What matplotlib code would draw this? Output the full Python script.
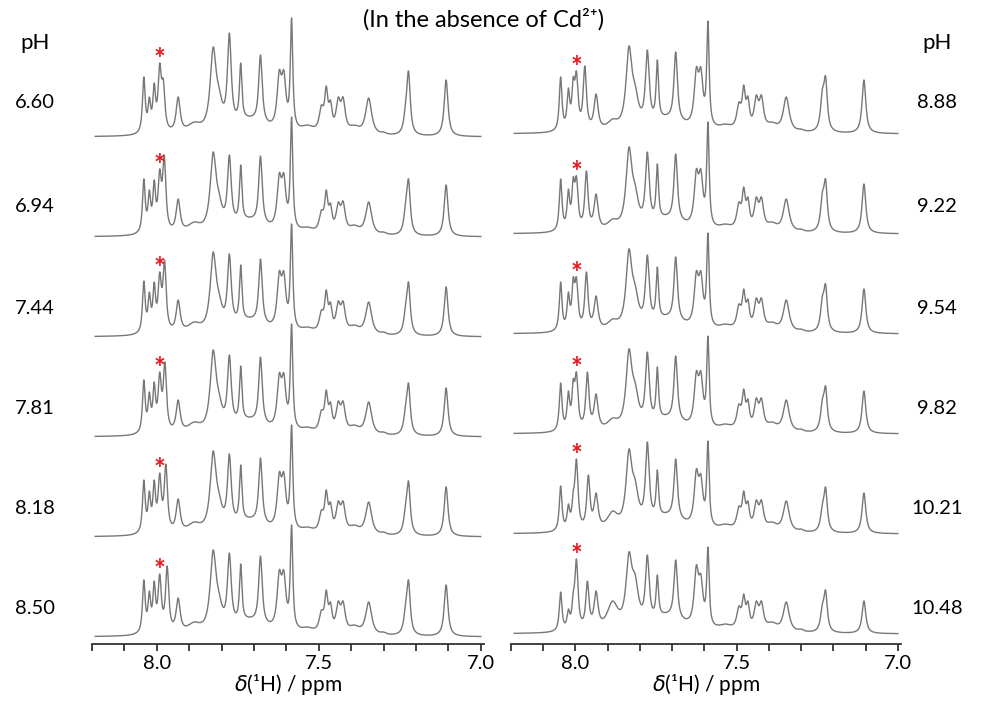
import numpy as np
import matplotlib
matplotlib.use('Agg')
import matplotlib.pyplot as plt
from matplotlib.ticker import MultipleLocator, FuncFormatter

plt.rcParams['font.family'] = ['Lato', 'DejaVu Sans']
plt.rcParams['mathtext.fontset'] = 'dejavusans'

# pH of each trace, top to bottom
ph_left = ['6.60', '6.94', '7.44', '7.81', '8.18', '8.50']
ph_right = ['8.88', '9.22', '9.54', '9.82', '10.21', '10.48']

# peak centres (ppm); index 5 is the peak that drifts with pH
centres_left = [8.072, 8.040, 8.023, 8.008, 7.991, 7.975, 7.934, 7.885, 7.826, 7.808,
                7.776, 7.741, 7.715, 7.680, 7.622, 7.608, 7.584, 7.535, 7.492, 7.477,
                7.464, 7.440, 7.425, 7.390, 7.346, 7.300, 7.232, 7.223, 7.107]
centres_right = [8.072, 8.046, 8.022, 8.007, 7.997, 7.966, 7.936, 7.885, 7.834, 7.815,
                 7.777, 7.746, 7.715, 7.689, 7.625, 7.611, 7.589, 7.535, 7.493, 7.478,
                 7.465, 7.439, 7.423, 7.390, 7.346, 7.300, 7.234, 7.224, 7.105]
moving_left = [7.980, 7.977, 7.976, 7.975, 7.972, 7.968]
moving_right = [7.971, 7.966, 7.966, 7.963, 7.960, 7.963]

# line widths (FWHM, ppm)
widths_left = [0.02, 0.010, 0.010, 0.010, 0.012, 0.012, 0.015, 0.05, 0.022, 0.025,
               0.014, 0.009, 0.12, 0.013, 0.016, 0.016, 0.009, 0.05, 0.016, 0.012,
               0.012, 0.016, 0.016, 0.04, 0.022, 0.02, 0.014, 0.013, 0.014]
widths_right = [0.02, 0.010, 0.010, 0.010, 0.012, 0.012, 0.015, 0.04, 0.022, 0.025,
                0.014, 0.009, 0.12, 0.013, 0.016, 0.016, 0.009, 0.05, 0.016, 0.012,
                0.012, 0.016, 0.016, 0.04, 0.022, 0.02, 0.014, 0.013, 0.014]

# trace height at each centre (pixels above the trace baseline)
heights_left = [
    [3, 60, 40, 54, 74, 58, 40, 15, 90, 50, 104, 74, 21, 82, 67, 67, 119, 12, 32, 51, 37, 40, 40, 12, 39, 5, 35, 66, 57],
    [3, 58, 47, 57, 68, 82, 38, 15, 85, 45, 82, 72, 20, 81, 64, 64, 120, 10, 27, 47, 34, 35, 36, 12, 35, 5, 35, 58, 52],
    [3, 56, 45, 55, 65, 77, 37, 15, 85, 45, 83, 72, 20, 78, 66, 66, 113, 10, 27, 47, 35, 36, 36, 12, 35, 5, 33, 55, 50],
    [3, 57, 45, 55, 65, 75, 37, 15, 87, 45, 82, 71, 20, 80, 64, 64, 113, 10, 27, 47, 35, 36, 36, 12, 35, 5, 33, 54, 49],
    [3, 57, 46, 57, 64, 73, 38, 15, 86, 45, 83, 72, 20, 79, 65, 65, 112, 10, 27, 47, 35, 36, 36, 12, 35, 5, 34, 56, 50],
    [3, 57, 46, 56, 63, 71, 39, 15, 87, 45, 84, 73, 20, 81, 67, 67, 112, 10, 27, 47, 35, 36, 36, 12, 35, 5, 34, 57, 52],
]
heights_right = [
    [3, 57, 46, 57, 63, 68, 40, 15, 88, 50, 84, 74, 20, 82, 67, 67, 113, 10, 32, 49, 38, 39, 39, 12, 37, 5, 45, 58, 54],
    [3, 55, 45, 57, 58, 63, 40, 15, 87, 50, 82, 70, 20, 80, 65, 65, 112, 10, 32, 47, 37, 37, 37, 12, 35, 5, 42, 55, 50],
    [3, 52, 42, 57, 57, 62, 38, 15, 85, 50, 79, 67, 20, 77, 63, 63, 101, 10, 30, 45, 35, 36, 36, 12, 34, 5, 38, 50, 45],
    [3, 51, 43, 55, 62, 62, 40, 16, 85, 52, 82, 67, 20, 78, 63, 63, 98, 10, 30, 45, 35, 36, 36, 12, 34, 5, 35, 48, 43],
    [3, 48, 30, 43, 75, 59, 41, 23, 85, 55, 92, 64, 22, 75, 65, 60, 93, 10, 28, 43, 33, 34, 34, 12, 33, 5, 30, 47, 41],
    [3, 42, 25, 42, 75, 53, 43, 33, 82, 60, 79, 59, 22, 74, 69, 60, 87, 10, 28, 40, 33, 33, 33, 12, 32, 5, 30, 44, 33],
]
star_index = 4


def line_shape(x, c, w, eta=0.9):
    u = (x - c) / (w / 2)
    return eta / (1 + u ** 2) + (1 - eta) * np.exp(-np.log(2) * u ** 2)


def spectrum(x, centres, widths, heights):
    c = np.asarray(centres)
    w = np.asarray(widths)
    h = np.asarray(heights, float)
    # amplitudes so that the summed trace passes through the read heights
    A = line_shape(c[:, None], c[None, :], w[None, :])
    amp = h.copy()
    for _ in range(300):
        amp = np.clip(amp + 0.4 * (h - A @ amp), 0, None)
    return (line_shape(x[:, None], c[None, :], w[None, :]) * amp).sum(axis=1)


fig = plt.figure(figsize=(9.83, 7.07), dpi=100)
W, H = 983, 707
ax_l = fig.add_axes([92 / W, (H - 644) / H, 392 / W, 644 / H])
ax_r = fig.add_axes([511 / W, (H - 644) / H, 390 / W, 644 / H])

x = np.linspace(8.19, 7.0, 3000)

panels = [
    (ax_l, centres_left, moving_left, widths_left, heights_left, (-7, 637)),
    (ax_r, centres_right, moving_right, widths_right, heights_right, (-10, 634)),
]

for ax, centres, moving, widths, heights, ylim in panels:
    n = len(heights)
    for i in range(n):
        cen = list(centres)
        cen[5] = moving[i]
        y = spectrum(x, cen, widths, heights[i])
        off = 100 * (n - 1 - i)
        ax.plot(x, y + off, color='#777777', lw=1.0)
        # red asterisk above the marked peak
        sc = cen[star_index]
        near = np.abs(x - sc) < 0.006
        ax.text(sc, off + y[near].max() + 3, '*', color='#e8141b', fontsize=20,
                fontweight='bold', ha='center', va='center')

    ax.set_xlim(8.2, 6.99)
    ax.set_ylim(*ylim)
    for s in ['top', 'left', 'right']:
        ax.spines[s].set_visible(False)
    ax.spines['bottom'].set_linewidth(1.3)
    ax.spines['bottom'].set_color('#333333')
    ax.set_yticks([])
    ax.xaxis.set_major_locator(MultipleLocator(0.1))
    ax.xaxis.set_major_formatter(FuncFormatter(
        lambda v, p: f'{v:.1f}' if abs(v * 2 - round(v * 2)) < 1e-6 else ''))
    ax.tick_params(axis='x', direction='out', length=5, width=1.3, color='#333333',
                   labelsize=14.5, pad=3)
    ax.set_xlabel(r'$\delta$(¹H) / ppm', fontsize=15, labelpad=0)

label_y = [103, 207, 309, 409, 509, 608]
fig.text(35 / W, 1 - 43 / H, 'pH', fontsize=16, ha='center', va='center')
fig.text(937 / W, 1 - 43 / H, 'pH', fontsize=16, ha='center', va='center')
for yy, a, b in zip(label_y, ph_left, ph_right):
    fig.text(35 / W, 1 - yy / H, a, fontsize=14.5, ha='center', va='center')
    fig.text(937 / W, 1 - yy / H, b, fontsize=14.5, ha='center', va='center')

fig.text(484 / W, 1 - 19 / H, '(In the absence of Cd²⁺)', fontsize=17,
         ha='center', va='center')

fig.savefig('out.png', dpi=100)
